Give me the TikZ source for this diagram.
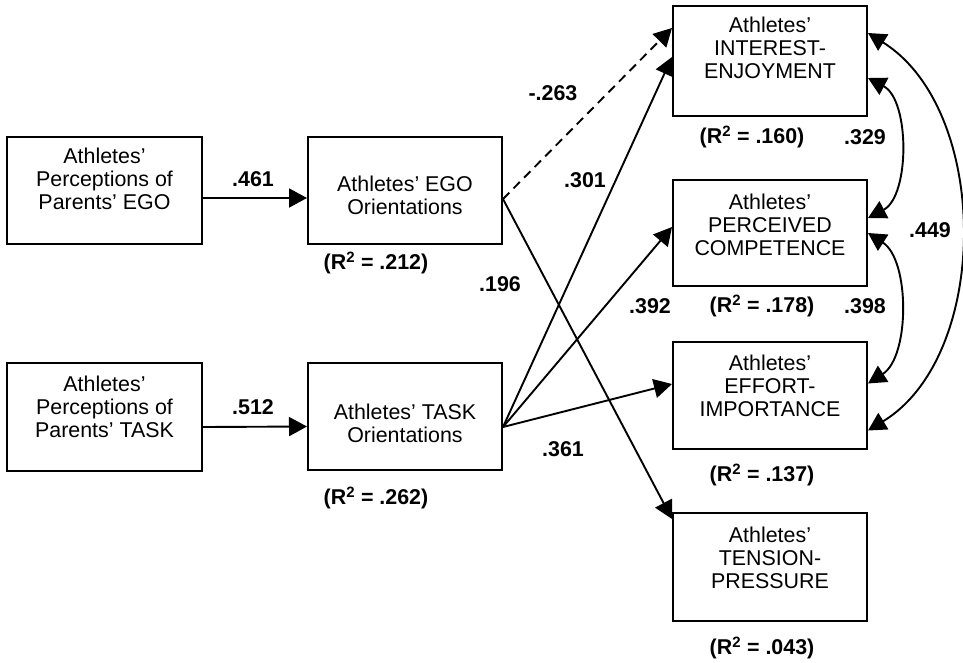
\documentclass[tikz,border=0pt]{standalone}
\usepackage{fontspec}
\setmainfont{Liberation Sans}
\usetikzlibrary{arrows.meta}

\begin{document}
\begin{tikzpicture}[x=1pt,y=-1pt]
\tikzset{box/.style={draw,line width=2pt,minimum width=194pt,inner sep=0pt},
boxtext/.style={anchor=north,align=center,inner sep=0pt,font=\fontsize{21.4}{23}\selectfont},
coef/.style={font=\fontsize{21.4}{23}\selectfont\bfseries},
patharrow/.style={line width=1.9pt,-{Triangle[length=18pt,width=19pt]}},
corr/.style={line width=1.9pt,{Triangle[length=18pt,width=19pt]}-{Triangle[length=18pt,width=19pt]}}}
\useasboundingbox (0,0) rectangle (963,662);
% left column
\node[box,minimum width=195pt,minimum height=107pt] (pego) at (104.5,190.5) {};
\node[boxtext] (pegotext) at ([yshift=-12pt]pego.north) {Athletes’\\Perceptions of\\Parents’ EGO};
\node[box,minimum width=195pt,minimum height=108pt] (ptask) at (104.5,417) {};
\node[boxtext] (ptasktext) at ([yshift=-14pt]ptask.north) {Athletes’\\Perceptions of\\Parents’ TASK};
% orientations
\node[box,minimum height=107pt] (ego) at (405,190.5) {};
\node[boxtext] (egotext) at ([yshift=-40pt]ego.north) {Athletes’ EGO\\Orientations};
\node[box,minimum height=107pt] (task) at (405,416.5) {};
\node[boxtext] (tasktext) at ([yshift=-42pt]task.north) {Athletes’ TASK\\Orientations};
% outcomes
\node[box,minimum height=110pt] (interest) at (770,61) {};
\node[boxtext] (interesttext) at ([yshift=-12pt]interest.north) {Athletes’\\INTEREST-\\ENJOYMENT};
\node[box,minimum height=106pt] (perceived) at (770,233) {};
\node[boxtext] (perceivedtext) at ([yshift=-15pt]perceived.north) {Athletes’\\PERCEIVED\\COMPETENCE};
\node[box,minimum height=107pt] (effort) at (770,395.5) {};
\node[boxtext] (efforttext) at ([yshift=-14pt]effort.north) {Athletes’\\EFFORT-\\IMPORTANCE};
\node[box,minimum height=108pt] (tension) at (770,567) {};
\node[boxtext] (tensiontext) at ([yshift=-15pt]tension.north) {Athletes’\\TENSION-\\PRESSURE};
% paths
\coordinate (egoout) at ([yshift=-8.5pt]ego.east);
\coordinate (taskout) at ([yshift=-10.5pt]task.east);
\draw[patharrow] ([yshift=-7.5pt]pego.east) -- ([yshift=-7.5pt]ego.west);
\draw[patharrow] ([yshift=-10pt]ptask.east) -- ([yshift=-10pt]task.west);
\draw[patharrow,dash pattern=on 9pt off 6pt] (egoout) -- ([yshift=33pt]interest.west);
\draw[patharrow] (egoout) -- ([yshift=-7pt]tension.north west);
\draw[patharrow] (taskout) -- ([yshift=4pt]interest.west);
\draw[patharrow] (taskout) -- ([yshift=6pt]perceived.west);
\draw[patharrow] (taskout) -- ([yshift=11.5pt]effort.west);
% correlations
\draw[corr] ([yshift=-17pt]interest.east) .. controls +(42,22) and +(42,-22) .. ([yshift=15pt]perceived.east);
\draw[corr] (perceived.east) .. controls +(42,27) and +(42,-27) .. ([yshift=12pt]effort.east);
\draw[corr] ([yshift=28pt]interest.east) .. controls +(123,77) and +(123,-75) .. ([yshift=-35pt]effort.east);
% coefficients
\node[coef] (c461) at (253,179) {.461};
\node[coef] (c512) at (253,407) {.512};
\node[coef] (c263) at (553,93) {-.263};
\node[coef] (c301) at (585,180) {.301};
\node[coef] (c196) at (500,284) {.196};
\node[coef] (c392) at (650,306) {.392};
\node[coef] (c361) at (563,449) {.361};
\node[coef] (c329) at (865,137) {.329};
\node[coef] (c398) at (865,306) {.398};
\node[coef] (c449) at (930,230) {.449};
\node[coef] (r212) at (376,263) {(R\textsuperscript{2} = .212)};
\node[coef] (r262) at (376,498) {(R\textsuperscript{2} = .262)};
\node[coef] (r160) at (752,137) {(R\textsuperscript{2} = .160)};
\node[coef] (r178) at (762,306) {(R\textsuperscript{2} = .178)};
\node[coef] (r137) at (762,475) {(R\textsuperscript{2} = .137)};
\node[coef] (r043) at (762,648) {(R\textsuperscript{2} = .043)};
\end{tikzpicture}
\end{document}
